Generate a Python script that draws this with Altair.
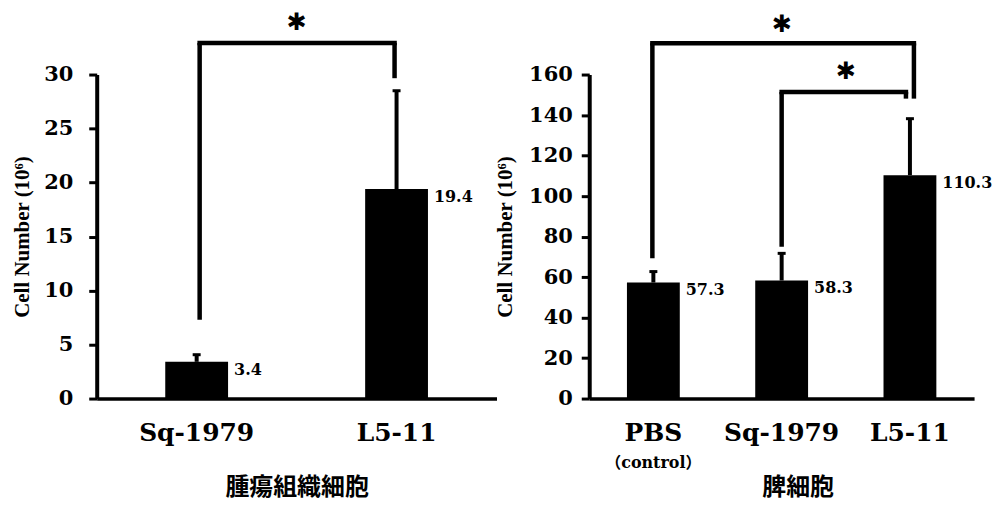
import altair as alt
import pandas as pd

# Tumour tissue cells (腫瘍組織細胞)
tumor_groups = ["Sq-1979", "L5-11"]
tumor_mean = [3.4, 19.4]
tumor_upper = [4.06, 28.5]
tumor_ticks = [0, 5, 10, 15, 20, 25, 30]
# (group a, group b, leg bottom at a, leg bottom at b, bracket top)
tumor_brackets = [("Sq-1979", "L5-11", 7.3, 29.66, 32.92)]
tumor_leg_offsets = [(3, -2)]
tumor_star_dy = [-20]

# Spleen cells (脾細胞)
spleen_groups = ["PBS", "Sq-1979", "L5-11"]
spleen_mean = [57.3, 58.3, 110.3]
spleen_upper = [62.7, 71.7, 138.2]
spleen_ticks = [0, 20, 40, 60, 80, 100, 120, 140, 160]
spleen_brackets = [
    ("PBS", "L5-11", 69.3, 148.1, 175.4),
    ("Sq-1979", "L5-11", 75.0, 148.1, 151.4),
]
spleen_leg_offsets = [(-1, 4), (0, -4)]
spleen_star_dy = [-18, -20]

Y_TITLE = "Cell Number (10⁶)"
SERIF = "DejaVu Serif"
CJK = "Noto Sans CJK JP"
HEIGHT = 325
LINE_W = 4.5


def panel(groups, mean, upper, ticks, brackets, offsets, star_dy, width, bar_w,
          x_title, title_dx, tick_label_pad, y_title_x, note=None):
    n = len(groups)
    step = width / n
    pin = 1 - bar_w / step
    xscale = alt.Scale(domain=groups, paddingInner=pin, paddingOuter=pin / 2)
    yscale = alt.Scale(domain=[ticks[0], ticks[-1]], nice=False, zero=True)

    df = pd.DataFrame({"group": groups, "mean": mean, "upper": upper})
    base = alt.Chart(df)

    x_axis = alt.Axis(
        labelAngle=0, ticks=False, domainColor="black", domainWidth=3.5,
        labelFont=SERIF, labelFontWeight="bold", labelFontSize=25,
        labelColor="black", labelPadding=22,
        titleFont=CJK, titleFontWeight="bold", titleFontSize=24,
        titleColor="black", titleX=width / 2 + title_dx, titleY=89,
        titleBaseline="middle", titleAlign="center",
    )
    y_axis = alt.Axis(
        values=ticks, grid=False, domainColor="black", domainWidth=4,
        tickColor="black", tickWidth=3, tickSize=8,
        labelFont=SERIF, labelFontWeight="bold", labelFontSize=21,
        labelColor="black", labelPadding=tick_label_pad,
        titleFont="Liberation Serif", titleFontWeight="bold", titleFontSize=21,
        titleColor="black", titleX=y_title_x, titleY=HEIGHT / 2,
        titleBaseline="middle", titleAlign="center", titleAngle=270,
    )

    bars = base.mark_bar(color="black").encode(
        x=alt.X("group:N", scale=xscale, axis=x_axis, title=x_title),
        y=alt.Y("mean:Q", scale=yscale, axis=y_axis, title=Y_TITLE),
    )
    err = base.mark_rule(color="black", strokeWidth=4).encode(
        x="group:N", y="mean:Q", y2="upper:Q",
    )
    caps = base.mark_tick(color="black", thickness=3, size=8, opacity=1).encode(
        x="group:N", y="upper:Q",
    )
    values = base.mark_text(
        font=SERIF, fontWeight="bold", fontSize=16, color="black",
        align="left", baseline="middle", dx=6, dy=8,
    ).encode(
        x=alt.X("group:N", bandPosition=1),
        y="mean:Q",
        text=alt.Text("mean:Q", format=".1f"),
    )
    layers = [bars, err, caps, values]

    for (a, b, lo_a, lo_b, top), (oa, ob), sdy in zip(brackets, offsets, star_dy):
        bdf = pd.DataFrame({"a": [a], "b": [b], "lo_a": [lo_a],
                            "lo_b": [lo_b], "top": [top], "star": ["✱"]})
        bb = alt.Chart(bdf)
        leg_a = bb.mark_rule(color="black", strokeWidth=LINE_W, xOffset=oa).encode(
            x="a:N", y="lo_a:Q", y2="top:Q")
        leg_b = bb.mark_rule(color="black", strokeWidth=LINE_W, xOffset=ob).encode(
            x="b:N", y="lo_b:Q", y2="top:Q")
        bar_top = bb.mark_rule(
            color="black", strokeWidth=LINE_W,
            xOffset=oa - LINE_W / 2, x2Offset=ob + LINE_W / 2,
        ).encode(x="a:N", x2="b:N", y="top:Q")
        span = groups.index(b) - groups.index(a)
        star = bb.mark_text(
            font="DejaVu Sans", fontWeight="bold", fontSize=24, color="black",
            align="center", baseline="middle", dx=span * step / 2, dy=sdy,
        ).encode(x="a:N", y="top:Q", text="star:N")
        layers += [leg_a, leg_b, bar_top, star]

    if note is not None:
        ndf = pd.DataFrame({"group": [note[0]], "note": [note[1]]})
        layers.append(
            alt.Chart(ndf).mark_text(
                font=f"{SERIF}, {CJK}", fontWeight="bold", fontSize=16,
                color="black", baseline="middle",
            ).encode(
                x="group:N",
                y=alt.value(HEIGHT + 65),
                text="note:N",
            )
        )

    return alt.layer(*layers).properties(width=width, height=HEIGHT)


left = panel(tumor_groups, tumor_mean, tumor_upper, tumor_ticks,
             tumor_brackets, tumor_leg_offsets, tumor_star_dy, 401, 63,
             "腫瘍組織細胞", 0, 16, -74)
right = panel(spleen_groups, spleen_mean, spleen_upper, spleen_ticks,
              spleen_brackets, spleen_leg_offsets, spleen_star_dy, 386, 53,
              "脾細胞", 16, 9, -84, note=("PBS", "（control）"))

chart = (
    alt.hconcat(left, right, spacing=93, bounds="flush")
    .configure_view(stroke=None)
    .properties(background="white",
                padding={"left": 12, "top": 10, "right": 5, "bottom": 5})
)

chart.save("out.html", embed_options={"renderer": "svg", "actions": False})
